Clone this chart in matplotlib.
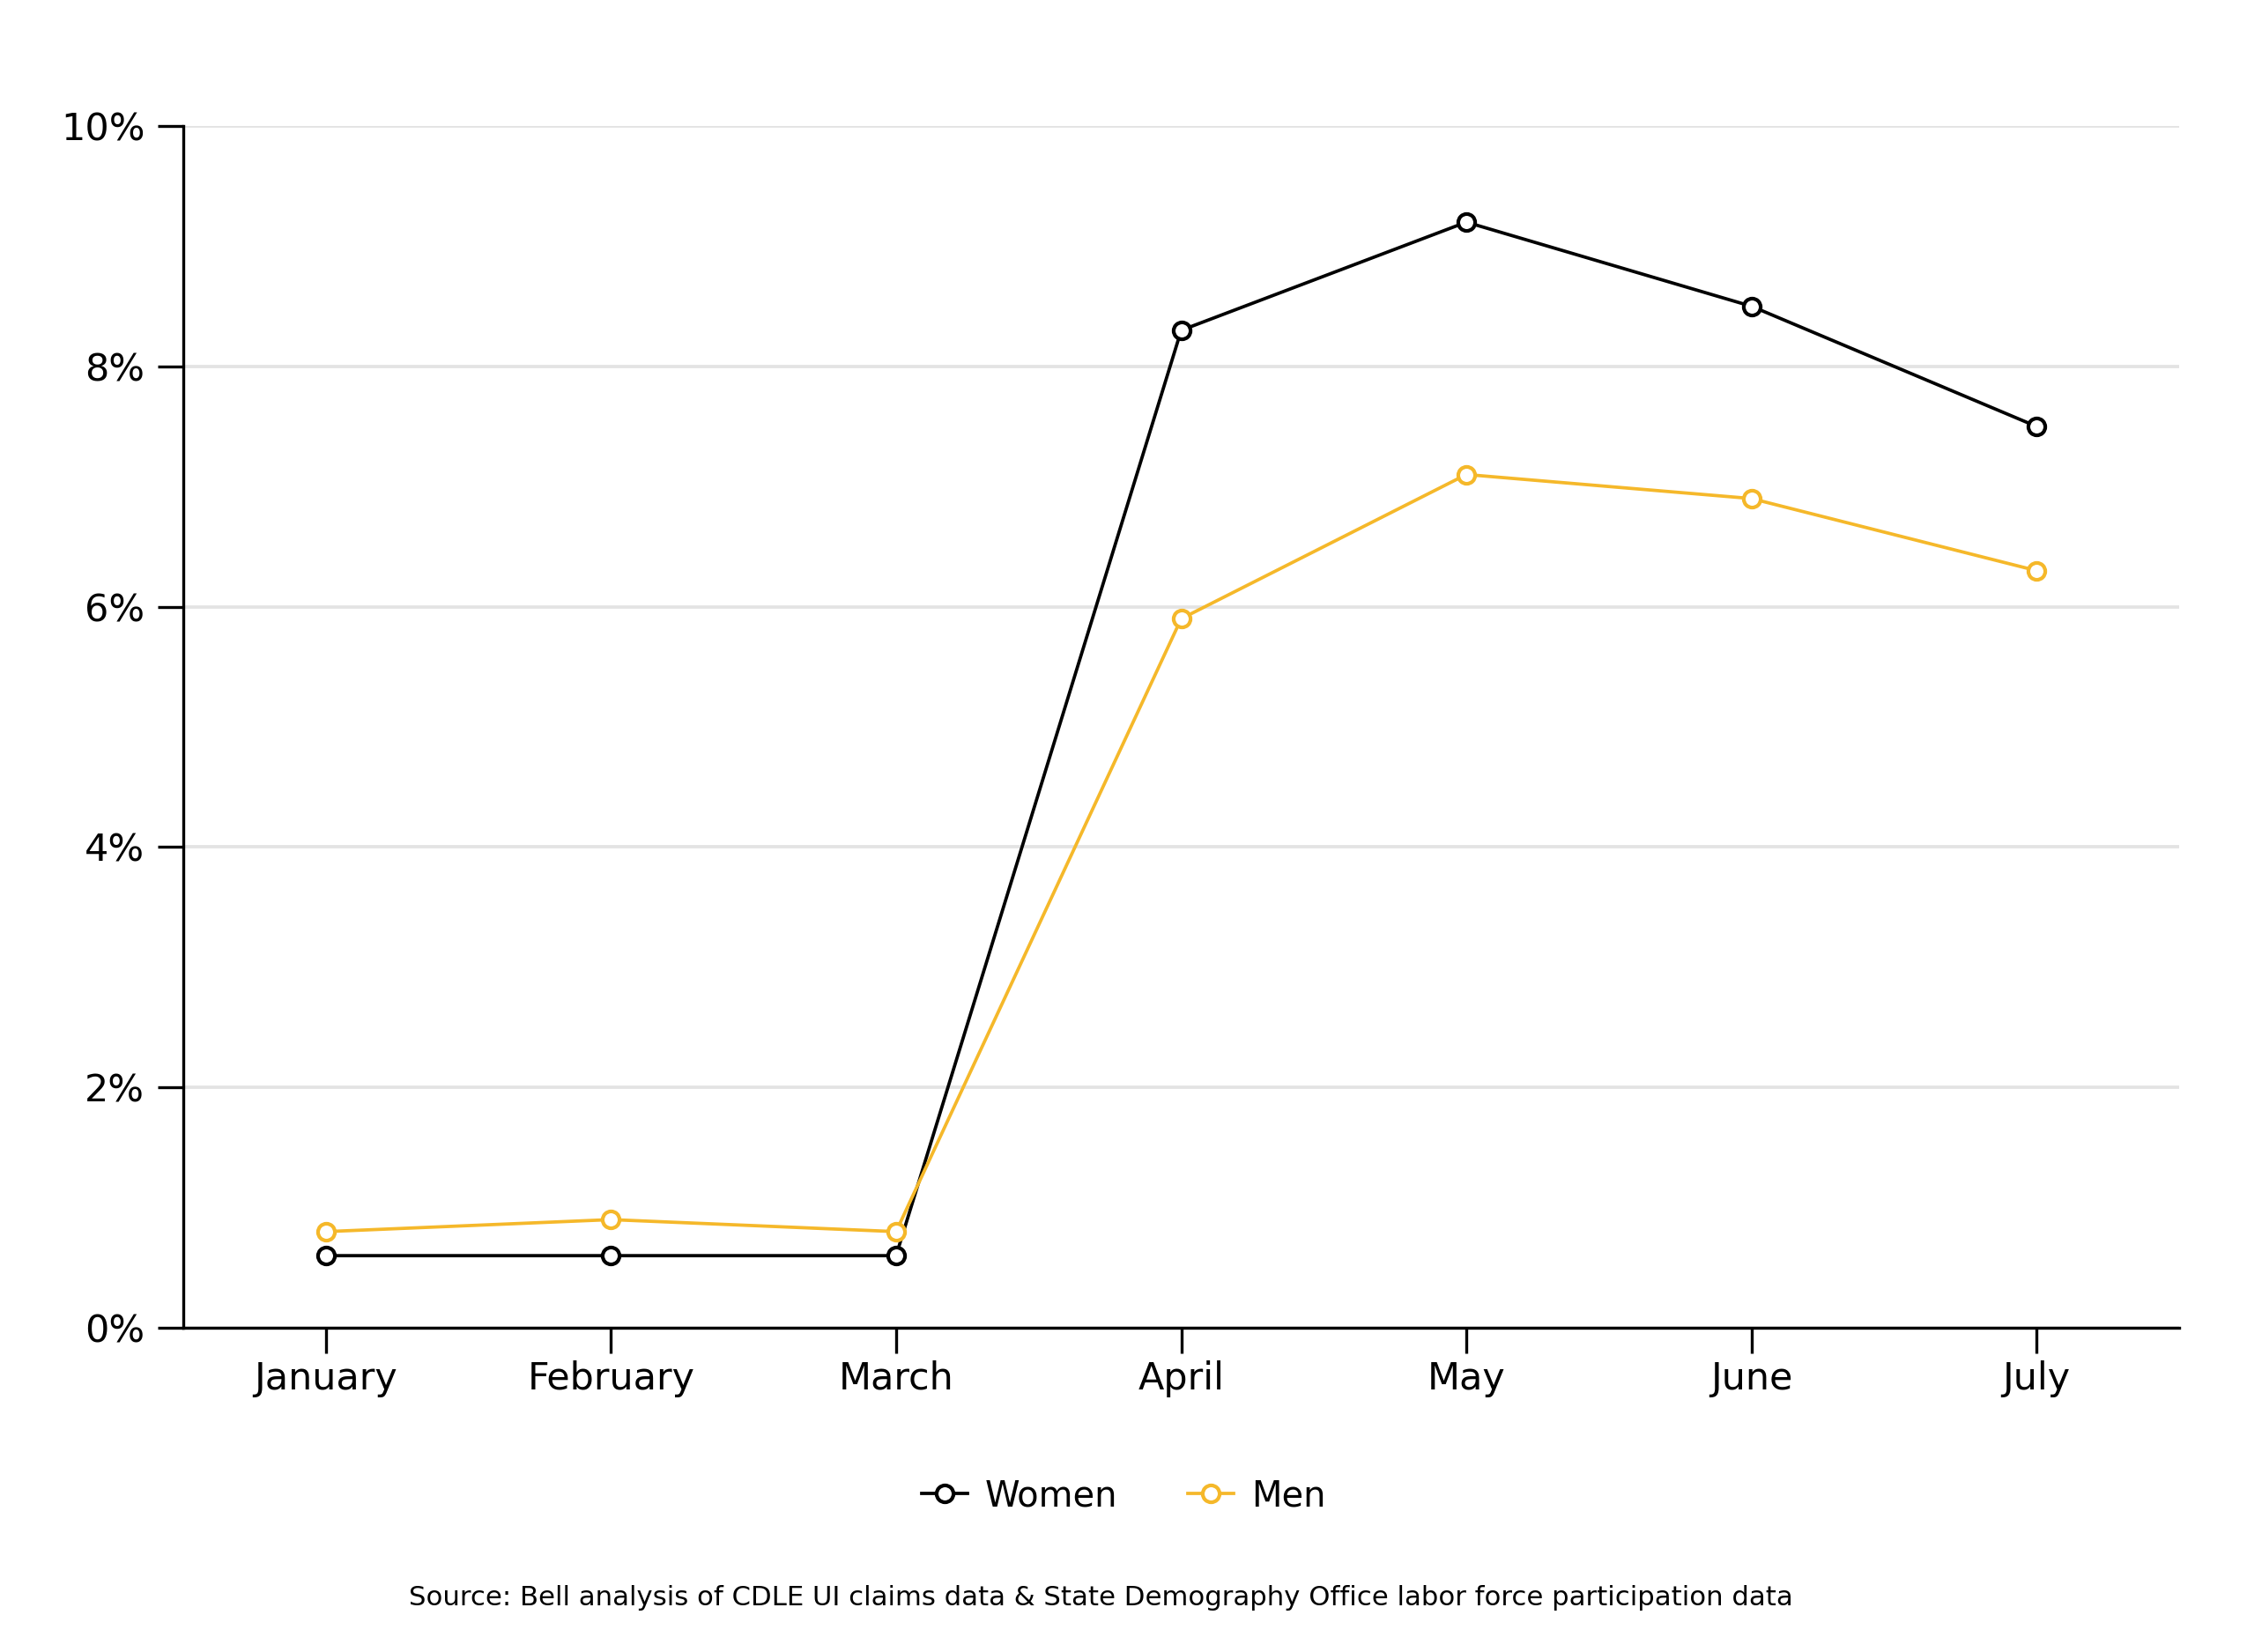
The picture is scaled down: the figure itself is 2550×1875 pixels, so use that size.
import matplotlib.pyplot as plt
from matplotlib.ticker import FuncFormatter

# Data
months = ['January', 'February', 'March', 'April', 'May', 'June', 'July']
women = [0.6, 0.6, 0.6, 8.3, 9.2, 8.5, 7.5]
men = [0.8, 0.9, 0.8, 5.9, 7.1, 6.9, 6.3]

plt.rcParams['font.family'] = ['DejaVu Sans']

fig = plt.figure(figsize=(8.5, 6.25), dpi=300)
ax = fig.add_axes([208 / 2550, 1 - 1507 / 1875, (2473 - 208) / 2550, (1507 - 143) / 1875])

x = range(len(months))
ax.plot(x, women, color='black', lw=0.9, marker='o', ms=4.6, mfc='white',
        mec='black', mew=1.0, label='Women', zorder=3)
ax.plot(x, men, color='#F5B82A', lw=0.9, marker='o', ms=4.6, mfc='white',
        mec='#F5B82A', mew=1.0, label='Men', zorder=3)

ax.set_xlim(-0.5, 6.5)
ax.set_ylim(0, 10)
ax.set_xticks(list(x))
ax.set_xticklabels(months)
ax.set_yticks([0, 2, 4, 6, 8, 10])
ax.yaxis.set_major_formatter(FuncFormatter(lambda v, p: f'{v:.0f}%'))

ax.grid(axis='y', color='#e3e3e3', lw=0.9)
ax.set_axisbelow(True)
for s in ['top', 'right']:
    ax.spines[s].set_visible(False)
for s in ['left', 'bottom']:
    ax.spines[s].set_linewidth(0.8)
ax.tick_params(axis='both', length=7, width=0.8, labelsize=10.3)
ax.tick_params(axis='x', pad=1.8)
ax.tick_params(axis='y', pad=3.5)

fig.legend(loc='center', bbox_to_anchor=(0.5, 1 - 1698 / 1875), ncol=2, frameon=False,
           fontsize=9.6, handlelength=1.3, handletextpad=0.5, columnspacing=2.0)

fig.text(0.49, 1 - 1813 / 1875,
         'Source: Bell analysis of CDLE UI claims data & State Demography Office labor force participation data',
         ha='center', va='center', fontsize=7.4)

fig.savefig('out.png', dpi=300)
